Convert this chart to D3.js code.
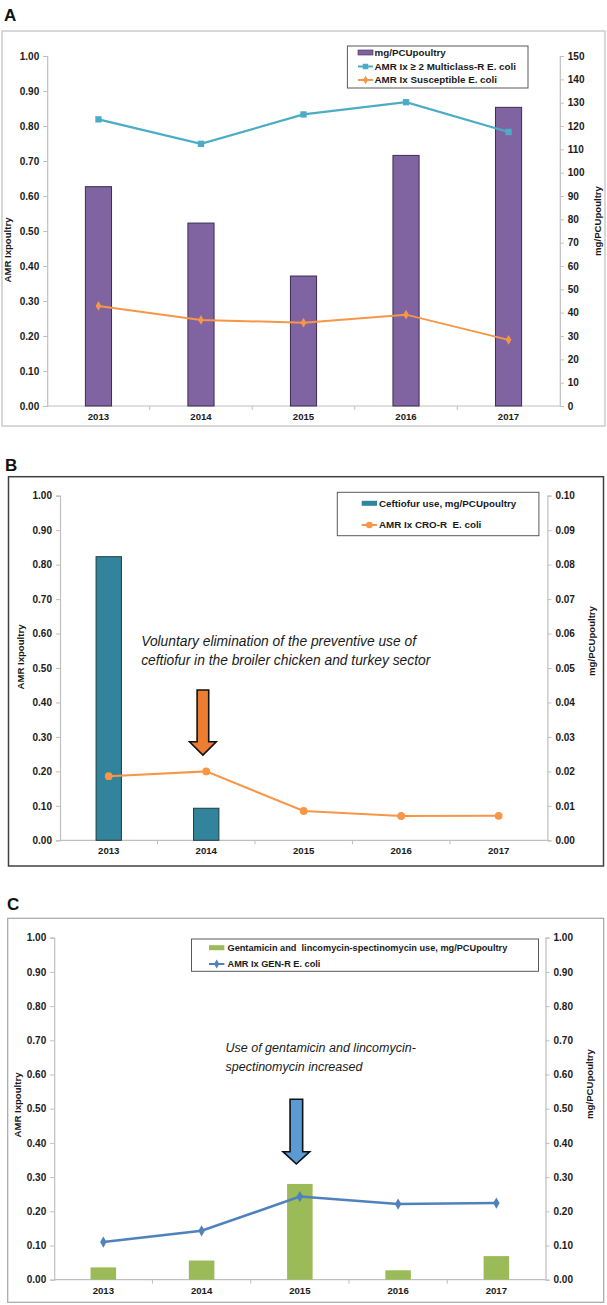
<!DOCTYPE html>
<html><head><meta charset="utf-8">
<script src="https://cdn.jsdelivr.net/npm/d3@7"></script>
<style>
body{margin:0;background:#fff;}
text{font-family:"Liberation Sans",Arial,sans-serif;white-space:pre;}
</style></head>
<body>
<script>
// ---------- DATA ----------
const years = ["2013","2014","2015","2016","2017"];
const leftTicks = [0,0.1,0.2,0.3,0.4,0.5,0.6,0.7,0.8,0.9,1.0];

// Panel A
const usageA = [94.0, 78.4, 55.7, 107.4, 128.0];           // mg/PCUpoultry (right axis)
const multiResA = [0.819, 0.749, 0.833, 0.868, 0.783];     // AMR Ix >=2 multiclass-R
const susceptA = [0.286, 0.246, 0.238, 0.261, 0.189];      // AMR Ix susceptible
const rightTicksA = [0,10,20,30,40,50,60,70,80,90,100,110,120,130,140,150];
const legendA = ["mg/PCUpoultry","AMR Ix \u2265 2 Multiclass-R E. coli","AMR Ix Susceptible E. coli"];

// Panel B
const ceftiofurB = [0.0823, 0.0093, 0, 0, 0];
const croResB = [0.186, 0.200, 0.085, 0.0705, 0.071];
const rightTicksB = [0,0.01,0.02,0.03,0.04,0.05,0.06,0.07,0.08,0.09,0.10];
const legendB = ["Ceftiofur use, mg/PCUpoultry","AMR Ix CRO-R  E. coli"];
const noteB = ["Voluntary elimination of the preventive use of","ceftiofur in the broiler chicken and turkey sector"];

// Panel C
const gentaC = [0.036, 0.056, 0.280, 0.0275, 0.069];
const genResC = [0.110, 0.143, 0.243, 0.221, 0.224];
const rightTicksC = [0,0.1,0.2,0.3,0.4,0.5,0.6,0.7,0.8,0.9,1.0];
const legendC = ["Gentamicin and  lincomycin-spectinomycin use, mg/PCUpoultry","AMR Ix GEN-R E. coli"];
const noteC = ["Use of gentamicin and lincomycin-","spectinomycin increased"];

const leftTitle = "AMR Ixpoultry";
const rightTitle = "mg/PCUpoultry";

// ---------- DRAW ----------
const svg = d3.select("body").append("svg").attr("width",607).attr("height",1305);
svg.append("rect").attr("width",607).attr("height",1305).attr("fill","#fff");

const AXC = "#bfbfbf";
const TICKFS = "10px";
const XFS = "9.6px";
const TITLEFS = "9.6px";

function drawPanel(p){
  const g = svg.append("g");
  g.append("text").attr("x",p.label.x).attr("y",p.label.y).text(p.label.t)
    .attr("font-size","17px").attr("font-weight","bold").attr("fill","#111");
  g.append("rect").attr("x",p.box.x).attr("y",p.box.y).attr("width",p.box.w).attr("height",p.box.h)
    .attr("fill","none").attr("stroke",p.box.stroke).attr("stroke-width",p.box.sw);

  const x = d3.scaleBand().domain(years).range([p.x0,p.x1]).paddingInner(0).paddingOuter(0);
  const yL = d3.scaleLinear().domain([0,1]).range([p.yBot,p.yTop]);
  const yR = d3.scaleLinear().domain(p.rDomain).range([p.yBot,p.yTop]);

  const ax = g.append("g").attr("transform",`translate(${p.x0},0)`)
    .call(d3.axisLeft(yL).tickValues(leftTicks).tickFormat(d3.format(".2f")).tickSize(4).tickPadding(4));
  const ar = g.append("g").attr("transform",`translate(${p.x1},0)`)
    .call(d3.axisRight(yR).tickValues(p.rTicks).tickFormat(p.rFmt).tickSize(4).tickPadding(4));
  const ab = g.append("g").attr("transform",`translate(0,${p.yBot})`)
    .call(d3.axisBottom(x).tickSize(0).tickPadding(7));
  const bounds = years.slice(1).map(d=>x(d));
  ab.selectAll("line.bt").data(bounds).enter().append("line").attr("class","bt")
    .attr("x1",d=>d).attr("x2",d=>d).attr("y1",0).attr("y2",4).attr("stroke",AXC);
  [ax,ar,ab].forEach(a=>{
    a.selectAll("path.domain").attr("stroke",AXC).attr("stroke-width",1.2);
    a.selectAll(".tick line").attr("stroke",AXC);
    a.selectAll("text").attr("font-size",a===ab?XFS:TICKFS).attr("font-weight","bold").attr("fill","#1a1a1a")
      .attr("font-family",'"Liberation Sans",Arial,sans-serif');
  });
  ab.select("path.domain").attr("d",`M${p.x0},0H${p.x1}`);

  g.append("text").attr("transform",`translate(${p.lt.x},${p.lt.y}) rotate(-90)`).attr("text-anchor","middle")
    .attr("font-size",TITLEFS).attr("font-weight","bold").attr("fill","#1a1a1a").text(leftTitle);
  g.append("text").attr("transform",`translate(${p.rt.x},${p.rt.y}) rotate(-90)`).attr("text-anchor","middle")
    .attr("font-size",TITLEFS).attr("font-weight","bold").attr("fill","#1a1a1a").text(rightTitle);

  const bw = x.bandwidth()*p.barFrac;
  g.selectAll("rect.bar").data(p.bars.values.map((v,i)=>({v,year:years[i]})).filter(d=>d.v>0))
    .enter().append("rect").attr("class","bar")
    .attr("x",d=>x(d.year)+x.bandwidth()/2-bw/2).attr("width",bw)
    .attr("y",d=>yR(d.v)).attr("height",d=>p.yBot-yR(d.v))
    .attr("fill",p.bars.color).attr("stroke",p.bars.stroke||"none").attr("stroke-width",1);

  if(p.note){
    p.note.lines.forEach((t,i)=>{
      g.append("text").attr("x",p.note.x).attr("y",p.note.y+i*p.note.dy).text(t)
        .attr("font-family","Lato,'Open Sans',sans-serif").attr("font-style","italic")
        .attr("font-size",p.note.fs).attr("fill","#1a1a1a");
    });
    const a = p.arrow;
    const cx = x(a.year)+x.bandwidth()/2+a.dx;
    const sw = a.shaftW/2, hw = a.headW/2;
    const path = `M${cx-sw},${a.top}H${cx+sw}V${a.headY}H${cx+hw}L${cx},${a.tip}L${cx-hw},${a.headY}H${cx-sw}Z`;
    g.append("path").attr("d",path).attr("fill",a.fill).attr("stroke","#111").attr("stroke-width",1.6)
      .attr("stroke-linejoin","miter");
  }

  p.lines.forEach(l=>{
    const pts = l.values.map((v,i)=>[x(years[i])+x.bandwidth()/2, yL(v)]);
    g.append("path").attr("d",d3.line()(pts)).attr("fill","none").attr("stroke",l.color).attr("stroke-width",l.w);
    g.selectAll(null).data(pts).enter().append("path")
      .attr("transform",d=>`translate(${d[0]},${d[1]})`)
      .attr("d",d3.symbol().type(l.sym).size(l.size)).attr("fill",l.color);
  });

  const L = p.legend;
  g.append("rect").attr("x",L.x).attr("y",L.y).attr("width",L.w).attr("height",L.h)
    .attr("fill","#fff").attr("stroke","#595959").attr("stroke-width",1);
  L.items.forEach((it,i)=>{
    const yy = L.rows[i];
    if(it.type==="bar"){
      g.append("rect").attr("x",L.sx).attr("y",yy-2.5).attr("width",L.sw).attr("height",5)
        .attr("fill",it.color).attr("stroke",it.stroke||"none").attr("stroke-width",0.6);
    } else {
      g.append("line").attr("x1",L.sx).attr("x2",L.sx+L.sw).attr("y1",yy).attr("y2",yy)
        .attr("stroke",it.color).attr("stroke-width",2);
      g.append("path").attr("transform",`translate(${L.sx+L.sw/2},${yy})`)
        .attr("d",d3.symbol().type(it.sym).size(it.size)).attr("fill",it.color);
    }
    g.append("text").attr("x",L.tx).attr("y",yy).attr("dy","0.35em").text(it.label)
      .attr("font-size",L.fs).attr("font-weight","bold").attr("fill","#1a1a1a");
  });
}

drawPanel({
  label:{x:4,y:21,t:"A"},
  box:{x:2,y:31,w:603,h:395,stroke:"#bfbfbf",sw:1.2},
  x0:47.2,x1:559.8,yTop:56,yBot:406,
  rDomain:[0,150], rTicks:rightTicksA, rFmt:d3.format("d"),
  lt:{x:11,y:250}, rt:{x:601,y:221},
  barFrac:0.255,
  bars:{values:usageA,color:"#8064A2",stroke:"#3b2d52"},
  lines:[
    {values:multiResA,color:"#4BACC6",w:2.2,sym:d3.symbolSquare,size:40},
    {values:susceptA,color:"#F79646",w:2,sym:d3.symbolDiamond,size:28}
  ],
  legend:{x:347.4,y:46,w:180.6,h:42,sx:358,sw:15,tx:374.5,rows:[52.5,66.5,80],fs:"9.8px",
    items:[
      {type:"bar",color:"#8064A2",stroke:"#3b2d52",label:legendA[0]},
      {type:"line",color:"#4BACC6",sym:d3.symbolSquare,size:30,label:legendA[1]},
      {type:"line",color:"#F79646",sym:d3.symbolDiamond,size:22,label:legendA[2]}
    ]}
});

drawPanel({
  label:{x:5,y:471,t:"B"},
  box:{x:8.5,y:476.7,w:595,h:389.3,stroke:"#404040",sw:1.5},
  x0:60,x1:547.4,yTop:495.7,yBot:840.3,
  rDomain:[0,0.1], rTicks:rightTicksB, rFmt:d3.format(".2f"),
  lt:{x:24,y:657}, rt:{x:595,y:641},
  barFrac:0.26,
  bars:{values:ceftiofurB,color:"#31849B",stroke:"#1f3d46"},
  note:{lines:noteB,x:141.2,y:646,dy:19,fs:"13.8px"},
  arrow:{year:"2014",dx:-3.3,top:690,headY:741.7,tip:755,shaftW:11.6,headW:26.7,fill:"#ED7D31"},
  lines:[
    {values:croResB,color:"#F79646",w:2,sym:d3.symbolCircle,size:48}
  ],
  legend:{x:337.3,y:492.3,w:201.6,h:43.4,sx:361.7,sw:15.3,tx:379,rows:[503.3,525],fs:"9.8px",
    items:[
      {type:"bar",color:"#31849B",label:legendB[0]},
      {type:"line",color:"#F79646",sym:d3.symbolCircle,size:34,label:legendB[1]}
    ]}
});

drawPanel({
  label:{x:7,y:910,t:"C"},
  box:{x:7.7,y:918.3,w:596,h:384,stroke:"#a6a6a6",sw:1.2},
  x0:54.2,x1:545.5,yTop:937.7,yBot:1279.7,
  rDomain:[0,1], rTicks:rightTicksC, rFmt:d3.format(".2f"),
  lt:{x:21,y:1105}, rt:{x:593,y:1084},
  barFrac:0.26,
  bars:{values:gentaC,color:"#9BBB59"},
  note:{lines:noteC,x:225.5,y:1052,dy:19,fs:"12.5px"},
  arrow:{year:"2015",dx:-3.5,top:1099.3,headY:1151.7,tip:1164,shaftW:12.6,headW:26.7,fill:"#5B9BD5"},
  lines:[
    {values:genResC,color:"#4F81BD",w:2.5,sym:d3.symbolDiamond,size:36}
  ],
  legend:{x:191.5,y:939,w:347,h:32.3,sx:209,sw:15.4,tx:227.5,rows:[947.7,964],fs:"9.2px",
    items:[
      {type:"bar",color:"#9BBB59",label:legendC[0]},
      {type:"line",color:"#4F81BD",sym:d3.symbolDiamond,size:24,label:legendC[1]}
    ]}
});
</script>
</body></html>
